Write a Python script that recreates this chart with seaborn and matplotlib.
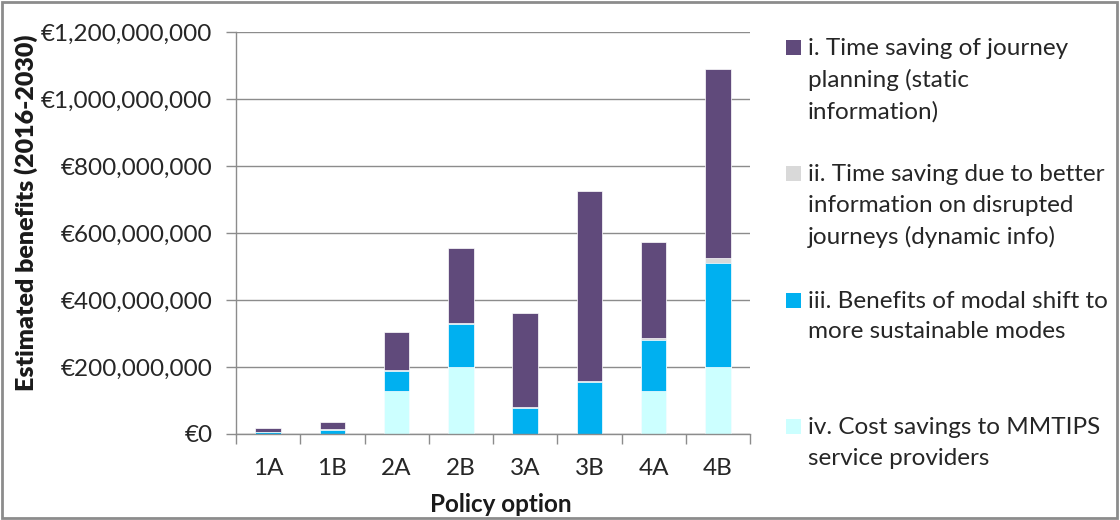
import numpy as np
import pandas as pd
import matplotlib.pyplot as plt
import matplotlib.patches as mpatches
from matplotlib.ticker import FuncFormatter, FixedLocator
import seaborn as sns

# Data (values in million EUR)
options = ['1A', '1B', '2A', '2B', '3A', '3B', '4A', '4B']
static_info = [11, 22, 113, 225, 280, 565, 286, 565]
dynamic_info = [1, 1, 2, 2, 3, 4, 4, 14]
modal_shift = [5, 13, 62, 128, 78, 155, 155, 311]
cost_savings = [0, 0, 127, 200, 0, 0, 127, 200]

series_labels = [
    'i. Time saving of journey\nplanning (static\ninformation)',
    'ii. Time saving due to better\ninformation on disrupted\njourneys (dynamic info)',
    'iii. Benefits of modal shift to\nmore sustainable modes',
    'iv. Cost savings to MMTIPS\nservice providers',
]
series_colors = ['#604A7B', '#D9D9D9', '#00B0F0', '#CCFFFF']

sns.set_theme(style='white')
plt.rcParams['font.family'] = ['Lato', 'DejaVu Sans']

fig = plt.figure(figsize=(11.2, 5.2), dpi=100)
ax = fig.add_axes([236 / 1120, 1 - 434 / 520, (750 - 236) / 1120, (434 - 32) / 520])

# stacked bars: draw cumulative totals from top segment down
stack = [cost_savings, modal_shift, dynamic_info, static_info]
stack_colors = series_colors[::-1]
cum = np.cumsum(np.array(stack, dtype=float), axis=0) * 1e6
for i in range(len(stack) - 1, -1, -1):
    df = pd.DataFrame({'option': options, 'value': cum[i]})
    sns.barplot(data=df, x='option', y='value', color=stack_colors[i],
                width=0.4, edgecolor='white', linewidth=0.5,
                saturation=1, ax=ax, zorder=2)

ax.set_xlim(-0.5, len(options) - 0.5)
ax.set_ylim(0, 1.2e9)
ax.set_yticks(np.arange(0, 1.2e9 + 1, 2e8))
ax.yaxis.set_major_formatter(FuncFormatter(lambda v, p: '€{:,.0f}'.format(v)))
ax.grid(axis='y', color='#8C8C8C', linewidth=1)
ax.set_axisbelow(True)

for s in ['top', 'right']:
    ax.spines[s].set_visible(False)
for s in ['left', 'bottom']:
    ax.spines[s].set_color('#8C8C8C')
    ax.spines[s].set_linewidth(1)

ax.xaxis.set_minor_locator(FixedLocator(np.arange(-0.5, len(options), 1)))
ax.tick_params(axis='x', which='major', length=0, pad=17, labelsize=17.5, colors='#262626')
ax.tick_params(axis='x', which='minor', length=7, width=1, color='#8C8C8C', direction='out', bottom=True)
ax.tick_params(axis='y', which='major', length=7, width=1, color='#8C8C8C', direction='out',
               left=True, pad=10, labelsize=17.5, labelcolor='#262626')

ax.set_xlabel('Policy option', fontsize=17.5, fontweight='bold', color='#1a1a1a')
ax.set_ylabel('Estimated benefits (2016-2030)', fontsize=18, fontweight='heavy', color='#1a1a1a')
ax.xaxis.set_label_coords(0.515, -0.147)
ax.yaxis.set_label_coords(-0.385, 0.55)

# legend, laid out like the spreadsheet one (square beside first line)
for k, (lab, col) in enumerate(zip(series_labels, series_colors)):
    base = 55 + 126.4 * k
    fig.patches.append(mpatches.Rectangle((786 / 1120, 1 - base / 520), 15 / 1120, 15 / 520,
                                          transform=fig.transFigure, facecolor=col,
                                          edgecolor='none'))
    fig.text(808 / 1120, 1 - (base - 17) / 520, lab, fontsize=17.5, va='top', ha='left',
             linespacing=1.55, color='#262626')

# outer chart border
fig.patches.append(mpatches.Rectangle((0.002, 0.003), 0.995, 0.993, transform=fig.transFigure,
                                      fill=False, edgecolor='#8C8C8C', linewidth=2))

fig.savefig('out.png', dpi=100)
